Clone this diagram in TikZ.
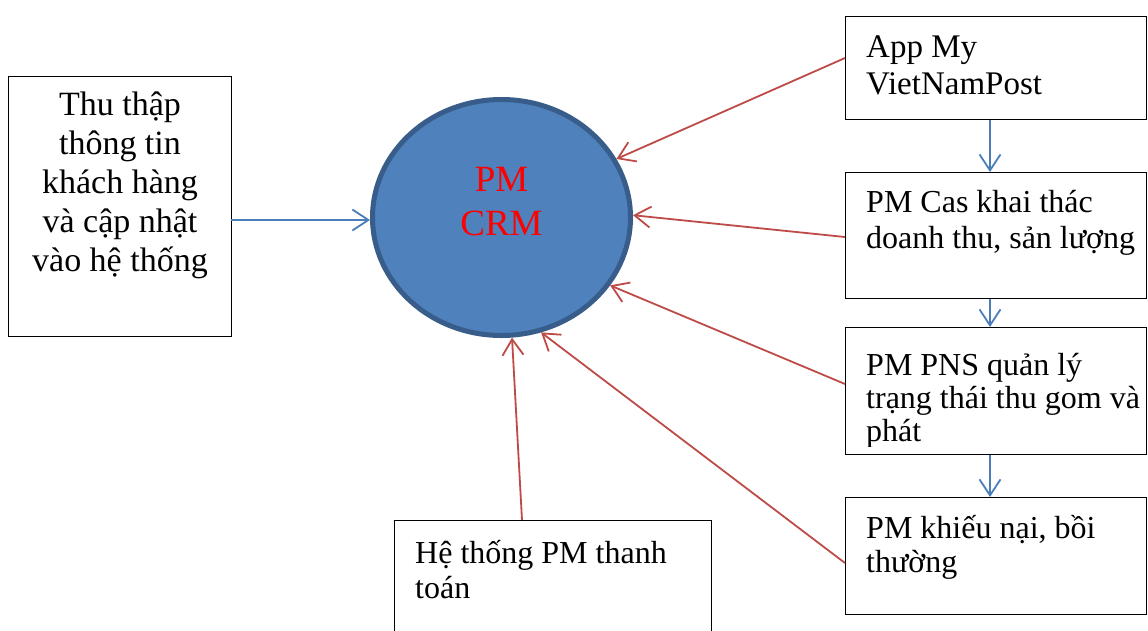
\documentclass[tikz,border=0pt]{standalone}
\usepackage{fontspec}
\setmainfont{Liberation Serif}
\usetikzlibrary{arrows.meta,shapes.geometric}

\definecolor{crmfill}{HTML}{4F81BD}
\definecolor{crmline}{HTML}{385D8A}
\definecolor{flowblue}{HTML}{4A7EBB}
\definecolor{flowred}{HTML}{BE4B48}

\tikzset{
  box/.style={draw=black, line width=1.3pt, rectangle, inner sep=0pt, anchor=north west},
  txt/.style={inner sep=0pt, anchor=base west},
  ctxt/.style={inner sep=0pt, anchor=base},
  bluearrow/.style={draw=flowblue, line width=1.8pt, -{Straight Barb[length=16pt,width=21pt,line width=1.8pt]}},
  redarrow/.style={draw=flowred, line width=1.8pt, -{Straight Barb[length=16pt,width=21pt,line width=1.8pt]}},
}

\newcommand{\boxtext}[3]{\fontsize{#1}{#2}\selectfont\parbox[t]{290pt}{\raggedright #3}}

\begin{document}
\begin{tikzpicture}[x=1pt,y=-1pt]
\clip (0,0) rectangle (1148,630);
\fill[white] (0,0) rectangle (1148,630);

% central system
\node[ellipse, draw=crmline, fill=crmfill, line width=5pt,
      minimum width=258pt, minimum height=236pt, inner sep=0pt] (crm) at (501.5,217.5) {};
\node[ctxt, text=red] (crmText) at (501.5,191)
  {\fontsize{37}{44}\selectfont\parbox[t]{200pt}{\centering PM\\CRM}};

% data-entry box on the left
\node[box, minimum width=223pt, minimum height=260pt] (input) at (8,76) {};
\node[ctxt] (inputText) at (120,115)
  {\fontsize{34}{39}\selectfont\parbox[t]{223pt}{\centering Thu thập\\thông tin\\khách hàng\\và cập nhật\\vào hệ thống}};

% source systems on the right
\node[box, minimum width=301pt, minimum height=103pt] (app) at (845,16) {};
\node[box, minimum width=301pt, minimum height=126pt] (cas) at (845,172) {};
\node[box, minimum width=301pt, minimum height=127pt] (pns) at (845,327) {};
\node[box, minimum width=301pt, minimum height=117pt] (claim) at (845,497) {};

\node[txt] (appText) at (866,57) {\boxtext{33}{37}{App My\\VietNamPost}};
\node[txt] (casText) at (866,212) {\boxtext{32}{36}{PM Cas khai thác\\doanh thu, sản lượng}};
\begin{scope}
  \clip (845,327) rectangle (1146,446);
  \node[txt] (pnsText) at (866,375) {\boxtext{32}{33}{PM PNS quản lý\\trạng thái thu gom và\\phát}};
\end{scope}
\node[txt] (claimText) at (866,538) {\boxtext{32}{34}{PM khiếu nại, bồi\\thường}};

% payment system at the bottom
\node[box, minimum width=317pt, minimum height=140pt] (pay) at (394,520) {};
\node[txt] (payText) at (415,563) {\boxtext{32}{35}{Hệ thống PM thanh\\toán}};

% connection points on the box edges
\coordinate (appOut) at (845,58);
\coordinate (casOut) at (845,237);
\coordinate (pnsOut) at (845,384);
\coordinate (claimOut) at (845,563);
\coordinate (payOut) at (522,520);
\coordinate (inputOut) at (231,220);

% flows into the CRM
\draw[bluearrow] (inputOut) -- (crm.west |- inputOut);
\draw[redarrow] (appOut) -- (crm.27);
\draw[redarrow] (casOut) -- (crm.1);
\draw[redarrow] (pnsOut) -- (crm.-32);
\draw[redarrow] (claimOut) -- (crm.-71);
\draw[redarrow] (payOut) -- (crm.-85);

% chain between the right-hand systems
\draw[bluearrow] (app.south -| 990,0) -- (cas.north -| 990,0);
\draw[bluearrow] (cas.south -| 990,0) -- (pns.north -| 990,0);
\draw[bluearrow] (pns.south -| 990,0) -- (claim.north -| 990,0);
\end{tikzpicture}
\end{document}
